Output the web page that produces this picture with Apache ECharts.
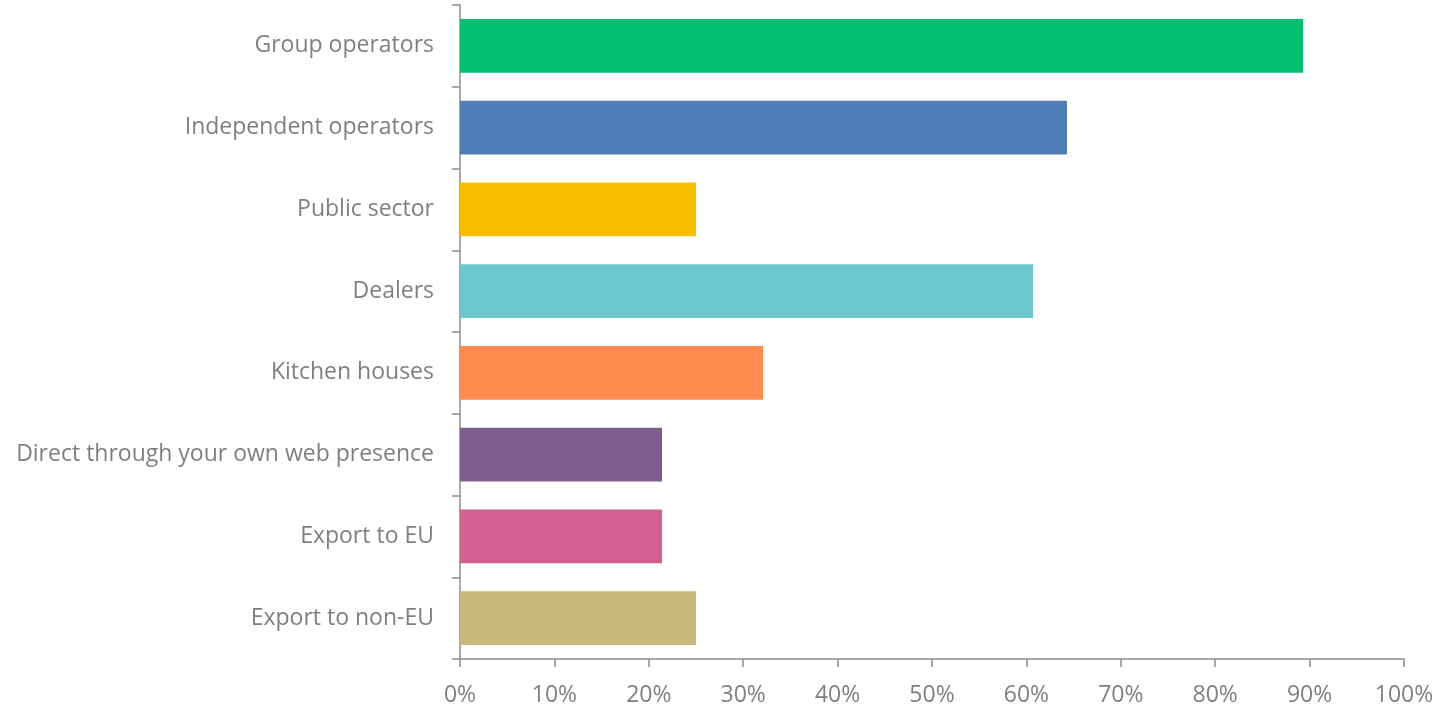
<!DOCTYPE html>
<html>
<head>
<meta charset="utf-8">
<script src="https://cdn.jsdelivr.net/npm/echarts@6/dist/echarts.min.js"></script>
<style>
  html, body { margin: 0; padding: 0; background: #fff; }
  #chart { width: 1439px; height: 707px; }
</style>
</head>
<body>
<div id="chart"></div>
<script>
// Sales channels, share of respondents (%)
const categories = [
  'Group operators',
  'Independent operators',
  'Public sector',
  'Dealers',
  'Kitchen houses',
  'Direct through your own web presence',
  'Export to EU',
  'Export to non-EU'
];
const values = [89.3, 64.3, 25.0, 60.7, 32.1, 21.4, 21.4, 25.0];
const barColors = ['#00BF6F', '#4F7DB5', '#F7BE00', '#6CC8CC', '#FF8B50', '#7D5E8F', '#D35F8F', '#C9B87B'];
const xTicks = [0, 10, 20, 30, 40, 50, 60, 70, 80, 90, 100];

const fontFamily = '"Open Sans", Lato, sans-serif';
const textColor = '#7f7f7f';
const axisColor = '#8c8c8c';

const chart = echarts.init(document.getElementById('chart'), null, { renderer: 'canvas' });
chart.setOption({
  animation: false,
  grid: { left: 460, right: 35, top: 5, bottom: 48, containLabel: false },
  xAxis: {
    type: 'value',
    min: xTicks[0],
    max: xTicks[xTicks.length - 1],
    interval: xTicks[1] - xTicks[0],
    axisLine: { show: true, lineStyle: { color: axisColor, width: 1.5 } },
    axisTick: { show: true, length: 8, lineStyle: { color: axisColor, width: 1.5 } },
    splitLine: { show: false },
    axisLabel: {
      margin: 25,
      color: textColor,
      fontFamily: fontFamily,
      fontSize: 23,
      formatter: v => v + '%'
    }
  },
  yAxis: {
    type: 'category',
    data: categories,
    inverse: true,
    axisLine: { show: true, lineStyle: { color: axisColor, width: 1.5 } },
    axisTick: { show: true, length: 8, lineStyle: { color: axisColor, width: 1.5 } },
    axisLabel: {
      margin: 26,
      padding: [4, 0, 0, 0],
      color: textColor,
      fontFamily: fontFamily,
      fontSize: 23
    }
  },
  series: [{
    type: 'bar',
    barCategoryGap: '34%',
    data: values.map((v, i) => ({ value: v, itemStyle: { color: barColors[i] } }))
  }]
});
</script>
</body>
</html>
